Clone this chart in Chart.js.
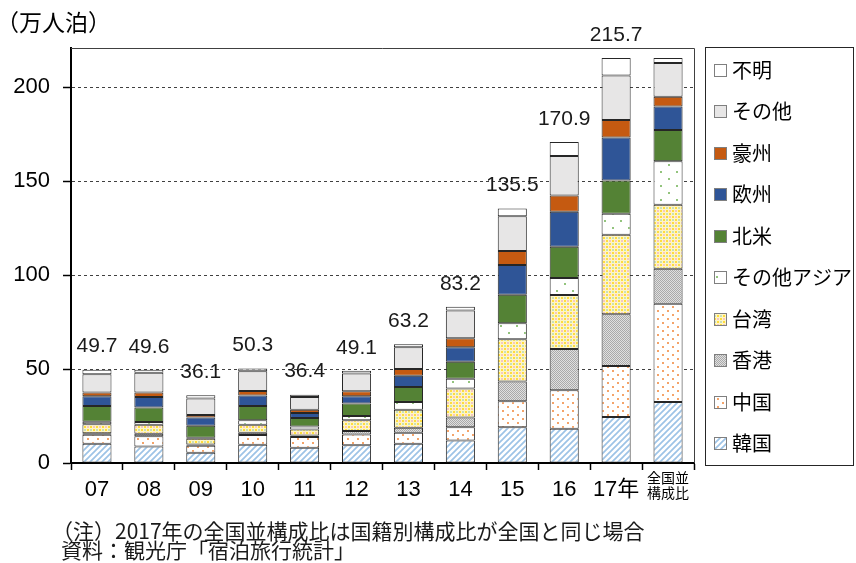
<!DOCTYPE html>
<html><head><meta charset="utf-8">
<script src="https://cdn.jsdelivr.net/npm/chart.js@4.4.1/dist/chart.umd.min.js"></script>
<style>html,body{margin:0;padding:0;background:#fff;}#wrap{width:856px;height:563px;}</style>
</head><body><div id="wrap"><canvas id="c" width="856" height="563"></canvas></div>
<script>
// ---- data ----
const categories = ['07','08','09','10','11','12','13','14','15','16','17年',['全国並','構成比']];
const totals     = [49.7,49.6,36.1,50.3,36.4,49.1,63.2,83.2,135.5,170.9,215.7,null];
const korea      = [10.3, 8.8, 5.5, 9.7, 8.1, 9.4,10.3,12.0,19.1,18.3,24.5,32.5];
const china      = [ 4.8, 5.4, 3.7, 5.2, 5.7, 5.8, 5.8, 7.1,13.8,20.5,27.1,52.3];
const hongkong   = [ 0.7, 1.4, 0.7, 1.2, 0.9, 1.8, 2.7, 5.1,10.5,21.9,27.6,18.7];
const taiwan     = [ 4.9, 4.8, 3.0, 4.3, 3.2, 5.7, 9.6,15.5,22.5,28.7,42.3,34.0];
const otherAsia  = [ 1.3, 1.4, 0.6, 2.3, 1.5, 2.3, 4.1, 5.1, 8.5, 9.1,11.2,23.2];
const northAm    = [ 8.4, 7.7, 6.4, 7.7, 4.6, 6.7, 8.0, 9.1,15.2,16.6,17.8,16.6];
const europe     = [ 5.2, 5.7, 4.3, 5.5, 2.6, 3.9, 5.9, 7.7,15.8,18.7,22.9,12.5];
const australia  = [ 1.9, 2.3, 1.4, 2.5, 1.8, 2.6, 3.6, 4.8, 7.5, 8.7, 9.2, 5.3];
const others     = [ 9.8,10.5, 8.7,10.4, 6.8, 9.5,11.6,14.8,18.5,21.0,23.7,17.9];
const unknown    = [ 2.4, 1.6, 1.8, 1.5, 1.2, 1.4, 1.6, 2.0, 4.1, 7.4, 9.4, 2.7];
const seriesNames = ['韓国','中国','香港','台湾','その他アジア','北米','欧州','豪州','その他','不明'];
const seriesData  = [korea,china,hongkong,taiwan,otherAsia,northAm,europe,australia,others,unknown];
const yTicks = [0,50,100,150,200];
const unitLabel = '（万人泊）';
const noteLines = ['（注）2017年の全国並構成比は国籍別構成比が全国と同じ場合','資料：観光庁「宿泊旅行統計」'];

// ---- styles ----
const LATIN = "'Liberation Sans', Arial, 'Noto Sans CJK JP', sans-serif";
const CJK = "'Noto Sans CJK JP', sans-serif";
function pat(w,h,draw){const c=document.createElement('canvas');c.width=w;c.height=h;const g=c.getContext('2d');draw(g,w,h);return g.createPattern(c,'repeat');}
const fills = [
  pat(6,6,(g,w,h)=>{g.fillStyle='#fff';g.fillRect(0,0,w,h);g.strokeStyle='#9dc3e6';g.lineWidth=1.7;g.beginPath();g.moveTo(0,h);g.lineTo(w,0);g.moveTo(-1,1);g.lineTo(1,-1);g.moveTo(w-1,h+1);g.lineTo(w+1,h-1);g.stroke();}),
  pat(10,8,(g,w,h)=>{g.fillStyle='#fff';g.fillRect(0,0,w,h);g.fillStyle='#f4a46a';g.fillRect(2,2,2,2);g.fillRect(7,6,2,2);}),
  pat(2,2,(g)=>{g.fillStyle='#e0e0e0';g.fillRect(0,0,2,2);g.fillStyle='#aaaaaa';g.fillRect(0,0,1,1);g.fillRect(1,1,1,1);}),
  pat(6,6,(g)=>{g.fillStyle='#fff6c4';g.fillRect(0,0,6,6);g.fillStyle='#ffdc3c';g.fillRect(0,0,2,2);g.fillRect(3,3,2,2);g.fillStyle='#f4c7c3';g.fillRect(3,0,2,2);g.fillStyle='#c9dfbb';g.fillRect(0,3,2,2);}),
  pat(16,14,(g,w,h)=>{g.fillStyle='#fff';g.fillRect(0,0,w,h);g.fillStyle='#93c47d';g.fillRect(4,3,2,2);g.fillRect(12,10,2,2);}),
  '#548235','#2f5597','#c55a11','#e7e6e6','#ffffff'
];

const decor = {
  id:'decor',
  afterDatasetsDraw(chart){
    const {ctx, chartArea:a, scales:{x,y}} = chart;
    ctx.save();
    ctx.strokeStyle='#404040';ctx.lineWidth=1;
    ctx.beginPath();ctx.moveTo(a.left,a.top+0.5);ctx.lineTo(a.right+0.5,a.top+0.5);ctx.lineTo(a.right+0.5,a.bottom);ctx.stroke();
    ctx.fillStyle='#1a1a1a';ctx.font='21px '+LATIN;ctx.textAlign='center';ctx.textBaseline='middle';
    totals.forEach((t,i)=>{ if(t==null) return; ctx.fillText(t.toFixed(1), x.getPixelForValue(i), y.getPixelForValue(t)-23); });
    ctx.restore();
  },
  afterDraw(chart){
    const {ctx} = chart;
    ctx.save();
    ctx.fillStyle='#000';ctx.textBaseline='middle';ctx.textAlign='left';
    ctx.font='23px '+CJK;
    ctx.fillText(unitLabel,-4,22);
    ctx.strokeStyle='#262626';ctx.lineWidth=1;
    ctx.strokeRect(705.5,47.5,148,418);
    ctx.font='20px '+CJK;
    const ds = chart.data.datasets;
    for(let k=0;k<ds.length;k++){
      const d = ds[ds.length-1-k];
      const cy = 70 + k*41.5;
      ctx.fillStyle=d.backgroundColor;ctx.fillRect(714,Math.round(cy-6.5),13,13);
      ctx.strokeStyle='#7f7f7f';ctx.strokeRect(714.5,Math.round(cy-6.5)+0.5,12,12);
      ctx.fillStyle='#000';ctx.fillText(d.label,732,cy);
    }
    ctx.font='21px '+CJK;ctx.fillStyle='#1a1a1a';
    ctx.fillText(noteLines[0],52,531);
    ctx.fillText(noteLines[1],61,550);
    ctx.restore();
  }
};

new Chart(document.getElementById('c'),{
  type:'bar',
  data:{labels:categories,datasets:seriesNames.map((n,i)=>({label:n,data:seriesData[i],backgroundColor:fills[i]}))},
  options:{
    responsive:false,animation:false,devicePixelRatio:1,
    layout:{padding:{left:0,right:162,top:48,bottom:0}},
    plugins:{legend:{display:false},tooltip:{enabled:false}},
    datasets:{bar:{barPercentage:0.56,categoryPercentage:1,borderWidth:1,borderColor:'#262626',borderSkipped:false}},
    scales:{
      x:{stacked:true,
        grid:{display:true,drawOnChartArea:false,drawTicks:true,tickLength:7,tickColor:'#000',tickWidth:1.5,offset:true},
        border:{display:true,color:'#000',width:2},
        ticks:{padding:0,color:'#000',maxRotation:0,autoSkip:false,
          font:c=>c.index===11?{family:CJK,size:14,lineHeight:'15px'}:{family:LATIN,size:22,lineHeight:'39px'}},
        afterFit:s=>{s.height=100;}},
      y:{stacked:true,min:0,max:221,
        ticks:{stepSize:50,includeBounds:false,padding:13,color:'#000',font:{family:LATIN,size:22}},
        afterBuildTicks:s=>{s.ticks=yTicks.map(v=>({value:v}));},
        grid:{color:c=>(c.tick&&c.tick.value===0)?'rgba(0,0,0,0)':'#404040',lineWidth:1,tickLength:8,tickColor:'#000',tickWidth:1.5},
        border:{display:true,color:'#000',width:2,dash:[3,3]},
        afterFit:s=>{s.width=71;}}
    }
  },
  plugins:[decor]
});
</script></body></html>
